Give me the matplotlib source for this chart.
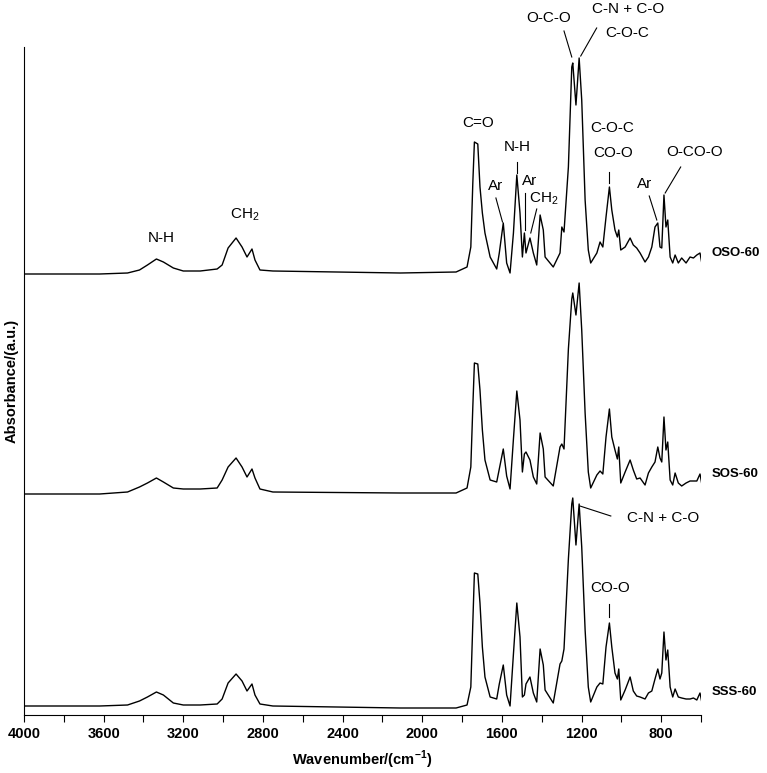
import matplotlib
matplotlib.use("Agg")
import matplotlib.pyplot as plt
from matplotlib.ticker import MultipleLocator

plt.rcParams["font.family"] = ["Liberation Sans", "DejaVu Sans"]
plt.rcParams["mathtext.fontset"] = "custom"
plt.rcParams["mathtext.rm"] = "Liberation Sans"
plt.rcParams["mathtext.bf"] = "Liberation Sans:bold"

# wavenumbers (cm-1) shared by the three spectra
wavenumber = [3995, 3620, 3480, 3420, 3380, 3335, 3300, 3250, 3200, 3115,
              3030, 3005, 2975, 2935, 2905, 2880, 2855, 2840, 2815, 2750,
              2110, 1830,
              1775, 1756, 1746, 1738, 1721, 1710, 1698, 1685, 1659, 1626,
              1613, 1593, 1576, 1559, 1542, 1525, 1509, 1497, 1487, 1479,
              1459, 1442, 1425, 1408, 1392, 1383, 1342, 1308, 1299, 1288,
              1266, 1249, 1244, 1228, 1212, 1199, 1182, 1166, 1154, 1123,
              1107, 1093, 1077, 1060, 1048, 1032, 1020, 1013, 1003, 981,
              956, 940, 923, 906, 881, 864, 847, 831, 817, 806,
              797, 786, 776, 767, 755, 742, 730, 714, 697, 675,
              655, 638, 621, 605, 596]

# absorbance (a.u.) above each baseline
oso_60 = [0, 0, 1, 4, 9, 15, 12, 6, 3, 3, 5, 9, 26, 36, 27, 17, 25, 14, 4, 3, 1, 2,
          7, 27, 91, 132, 130, 87, 61, 41, 17, 5,
          21, 51, 11, 1, 41, 99, 61, 17, 41, 21,
          36, 21, 9, 59, 44, 17, 7, 21, 47, 42,
          107, 207, 211, 169, 216, 174, 74, 24, 11, 21,
          32, 27, 57, 87, 64, 44, 37, 44, 24, 27,
          36, 29, 26, 21, 12, 17, 27, 47, 51, 27,
          26, 79, 47, 54, 17, 11, 19, 11, 16, 11,
          17, 16, 19, 21, 11]

sos_60 = [0, 0, 2, 7, 11, 16, 12, 6, 5, 5, 6, 14, 27, 36, 27, 17, 25, 16, 5, 2, 1, 1,
          6, 27, 87, 131, 130, 104, 64, 34, 14, 12,
          25, 45, 18, 5, 55, 103, 74, 22, 40, 42,
          34, 17, 10, 61, 45, 17, 8, 47, 50, 45,
          145, 195, 201, 179, 211, 164, 81, 22, 6, 19,
          23, 20, 57, 85, 57, 44, 35, 47, 11, 22,
          34, 24, 15, 16, 9, 21, 27, 32, 47, 36,
          32, 77, 44, 52, 14, 9, 21, 11, 8, 11,
          13, 13, 13, 20, 10]

sss_60 = [3, 3, 4, 8, 12, 17, 14, 6, 4, 4, 5, 10, 26, 35, 28, 18, 25, 14, 5, 3, 1, 1,
          4, 22, 86, 136, 135, 106, 62, 32, 12, 10,
          25, 44, 14, 3, 55, 106, 72, 12, 14, 25,
          32, 16, 7, 60, 44, 19, 6, 45, 48, 60,
          150, 205, 211, 164, 205, 162, 79, 22, 7, 22,
          26, 25, 62, 86, 62, 36, 30, 40, 9, 19,
          32, 18, 13, 12, 10, 16, 18, 30, 40, 30,
          36, 77, 49, 59, 22, 12, 20, 12, 11, 10,
          10, 11, 9, 16, 7]

sample_names = ["OSO-60", "SOS-60", "SSS-60"]
offsets = [441, 221, 6]

# band labels: text, x, y, optional leader line (x0, y0, x1, y1)
bands = [
    ("N-H", 3313, 477, None),
    ("CH$_2$", 2890, 500, None),
    ("C=O", 1721, 592, None),
    ("Ar", 1634, 529, (1630, 517, 1597, 493)),
    ("N-H", 1522, 568, (1525, 553, 1525, 542)),
    ("Ar", 1462, 534, (1484, 522, 1484, 485)),
    ("CH$_2$", 1392, 516, (1425, 506, 1455, 482)),
    ("O-C-O", 1366, 697, (1288, 684, 1249, 658)),
    ("C-N + C-O", 965, 706, None),
    ("C-O-C", 973, 682, (1124, 687, 1204, 659)),
    ("C-O-C", 1048, 587, None),
    ("CO-O", 1043, 562, (1060, 543, 1060, 532)),
    ("Ar", 881, 531, (860, 519, 822, 495)),
    ("O-CO-O", 630, 563, (702, 548, 780, 522)),
    ("C-N + C-O", 789, 197, (1208, 209, 1053, 199)),
    ("CO-O", 1057, 127, (1060, 111, 1060, 98)),
]

fig = plt.figure(figsize=(7.67, 7.73), dpi=100)
ax = fig.add_axes([24 / 767, 1 - 715 / 773, 677 / 767, 668 / 773])

for name, spec, off in zip(sample_names, [oso_60, sos_60, sss_60], offsets):
    ax.plot(wavenumber, [v + off for v in spec], color="black", lw=1.0)
    ax.text(547, off + spec[-1] + 10, name, fontsize=9.5, fontweight="bold",
            ha="left", va="center", clip_on=False)

for txt, x, y, line in bands:
    ax.text(x, y, txt, fontsize=11, ha="center", va="center", clip_on=False)
    if line is not None:
        ax.plot([line[0], line[2]], [line[1], line[3]], color="black",
                lw=0.8, clip_on=False)

ax.set_xlim(4000, 600)
ax.set_ylim(0, 668)
ax.spines["top"].set_visible(False)
ax.spines["right"].set_visible(False)
ax.set_yticks([])
ax.xaxis.set_major_locator(MultipleLocator(400))
ax.xaxis.set_minor_locator(MultipleLocator(200))
ax.tick_params(axis="x", which="both", direction="out", length=5, width=0.8)
ax.tick_params(axis="x", which="major", labelsize=10.5, pad=4)
for lab in ax.get_xticklabels():
    lab.set_fontweight("bold")

ax.set_xlabel(r"Wavenumber/(cm$^{\mathbf{-1}}$)", fontsize=10.5,
              fontweight="bold", labelpad=5)
ax.set_ylabel("Absorbance/(a.u.)", fontsize=10.5, fontweight="bold", labelpad=4)

fig.savefig("out.png", dpi=100)
